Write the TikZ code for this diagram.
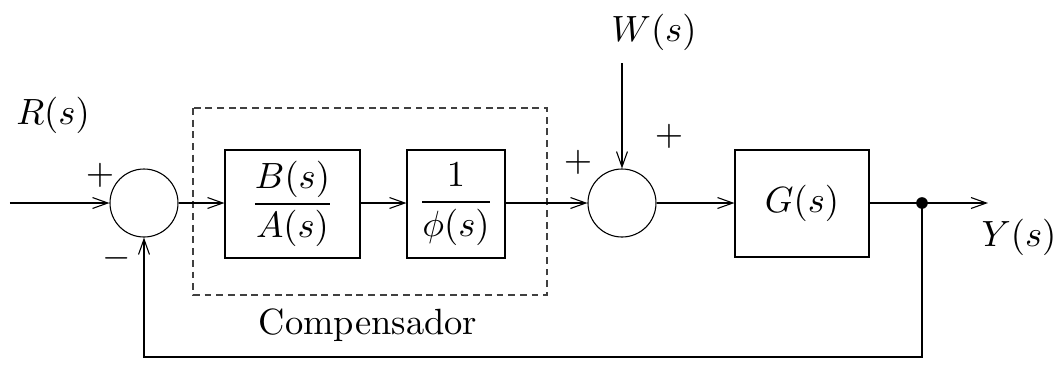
\documentclass[tikz,border=0pt]{standalone}
\usepackage{amsmath}
\usetikzlibrary{arrows.meta}
\begin{document}
\begin{tikzpicture}[x=0.274pt,y=-0.274pt,
  line width=0.3pt,
  arr/.style={-{Straight Barb[length=4.2pt,width=3pt,line width=0.3pt]}},
  sumnode/.style={draw,circle,inner sep=0pt,minimum size={68*0.274pt}},
  blk/.style={draw,rectangle,inner sep=0pt},
  lbl/.style={inner sep=0pt}]
\useasboundingbox (0,0) rectangle (1056,365);
% dashed compensator box
\draw[dashed,dash pattern=on 1.9pt off 1.3pt,draw=black!75] (193,108) rectangle (547,295);
\node[sumnode] (s1) at (144,203) {};
\node[blk,minimum width={135*0.274pt},minimum height={108*0.274pt}] (ba) at (292.5,204) {$\dfrac{B(s)}{A(s)}$};
\node[blk,minimum width={98*0.274pt},minimum height={108*0.274pt}] (ph) at (456,204) {$\dfrac{1}{\phi(s)}$};
\node[sumnode] (s2) at (622,203) {};
\node[blk,minimum width={134*0.274pt},minimum height={107*0.274pt}] (g) at (802,203.5) {$G(s)$};
\fill (922,203) circle[radius=1.6pt];
\coordinate (dot) at (922,203);
\coordinate (in) at (10,203);
\coordinate (out) at (988,203);
\coordinate (win) at (622,63);
\coordinate (fb) at (922,357);
% labels
\node[lbl] (r) at (53,115) {$R(s)$};
\node[lbl] (p1) at (100,175) {$+$};
\node[lbl] (m1) at (117,258) {$-$};
\node[lbl] (w) at (654,32) {$W(s)$};
\node[lbl] (p2) at (578,162) {$+$};
\node[lbl] (p3) at (669,136) {$+$};
\node[lbl] (y) at (1019,237) {$Y(s)$};
\node[lbl] (c) at (368,325) {Compensador};
% connectors
\draw[arr] (in) -- (s1.west);
\draw[arr] (s1.east) -- (ba.west |- s1.east);
\draw[arr] (ba.east |- s1.east) -- (ph.west |- s1.east);
\draw[arr] (ph.east |- s1.east) -- (s2.west);
\draw[arr] (s2.east) -- (g.west |- s2.east);
\draw[arr] (g.east |- s2.east) -- (out);
\draw[arr] (win) -- (s2.north);
\draw[arr] (dot) -- (fb) -| (s1.south);
\end{tikzpicture}
\end{document}
